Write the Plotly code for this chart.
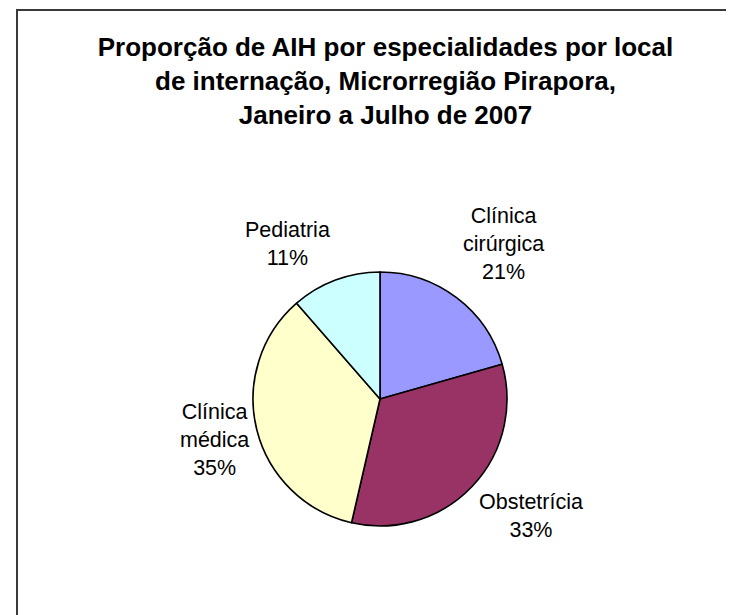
import plotly.graph_objects as go

categories = ["Clínica<br>cirúrgica", "Obstetrícia", "Clínica<br>médica", "Pediatria"]
values = [20.6, 33.0, 35.0, 11.4]
colors = ["#9999FF", "#993366", "#FFFFCC", "#CCFFFF"]
title_lines = ["Proporção de AIH por especialidades por local",
               "de internação, Microrregião Pirapora,",
               "Janeiro a Julho de 2007"]

W, H = 734, 615
cx, cy, r = 372, 391, 127   # pie centre/radius in figure pixels (page has 8px body margin)

# label anchor positions (figure pixels), as placed in the original chart
label_pos = [(495, 235.5), (522.5, 508), (206.5, 431.5), (279, 235.5)]

fig = go.Figure(go.Pie(
    labels=categories, values=values, sort=False, direction="clockwise", rotation=0,
    marker=dict(colors=colors, line=dict(color="black", width=1.6)),
    textinfo="none",
    domain=dict(x=[(cx - r) / W, (cx + r) / W], y=[1 - (cy + r) / H, 1 - (cy - r) / H]),
    showlegend=False, hoverinfo="label+percent",
))

total = sum(values)
annotations = []
for name, v, (px, py) in zip(categories, values, label_pos):
    annotations.append(dict(
        text=f"{name}<br>{round(v / total * 100)}%", x=px / W, y=1 - py / H,
        xref="paper", yref="paper", xanchor="center", yanchor="middle",
        showarrow=False, align="center",
        font=dict(family="Liberation Sans, Arial", size=21.5, color="black")))

fig.update_layout(
    width=W, height=H, margin=dict(l=0, r=0, t=0, b=0),
    paper_bgcolor="white", plot_bgcolor="white",
    title=dict(text="<br>".join(title_lines), x=377.5 / W, xanchor="center",
               y=1 - 48 / H, yanchor="top",
               font=dict(family="Liberation Sans, Arial", size=26, color="black", weight="bold")),
    annotations=annotations,
    shapes=[dict(type="rect", xref="paper", yref="paper", x0=9 / W, x1=1.08,
                 y0=-0.08, y1=1 - 2 / H, line=dict(color="#3a3a3a", width=2),
                 fillcolor="rgba(0,0,0,0)", layer="below")],
)

fig.write_html("out.html")
